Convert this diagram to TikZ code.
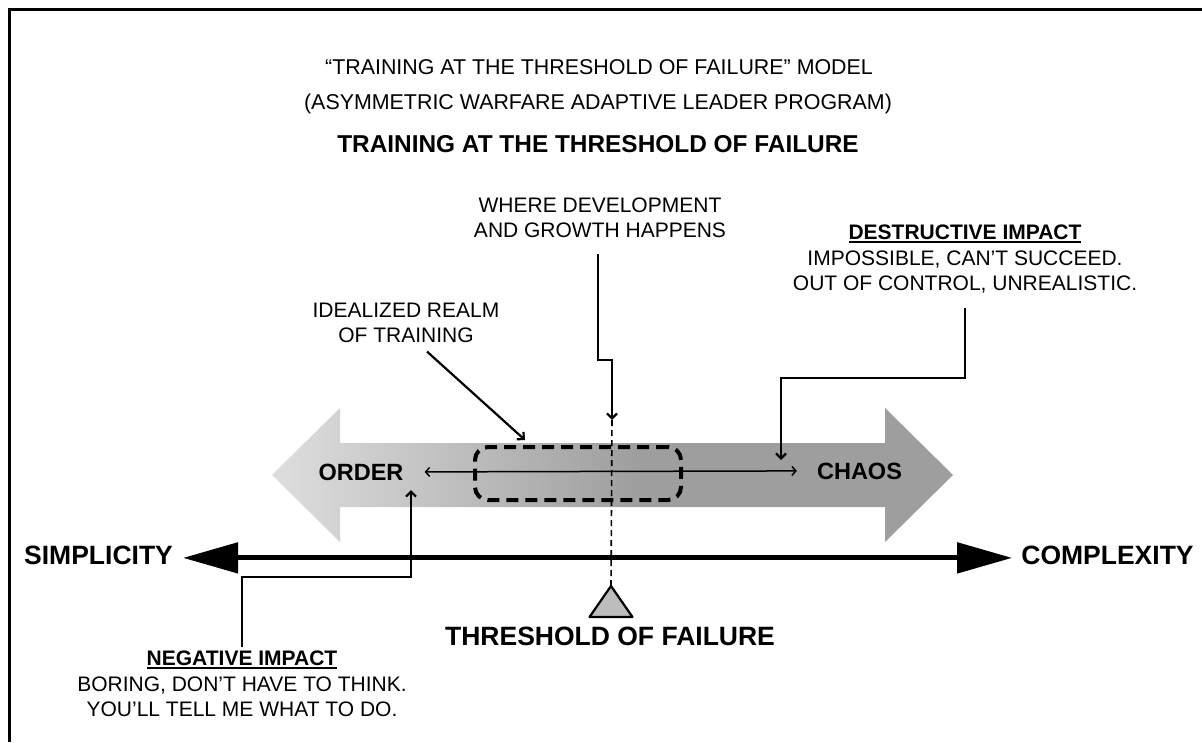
\documentclass[tikz,border=0pt]{standalone}
\usepackage{fontspec}
\setmainfont{Liberation Sans}
\usetikzlibrary{arrows.meta}

\definecolor{arrowlight}{gray}{0.87}
\definecolor{arrowdark}{gray}{0.62}
\definecolor{trifill}{gray}{0.74}

% light-to-dark ramp for the wide two-headed arrow (box maps to 25bp..75bp)
\pgfdeclarehorizontalshading{ramp}{100bp}{color(0bp)=(arrowlight); color(25bp)=(arrowlight); color(52bp)=(arrowdark); color(100bp)=(arrowdark)}

% bold heading with a solid underline
\newcommand\ulbold[1]{\setbox0\hbox{\bfseries #1}\rlap{\rule[-3.2pt]{\wd0}{1.8pt}}\box0}

\begin{document}
\begin{tikzpicture}[x=1pt,y=-1pt,
  titletext/.style={font=\fontsize{21.4}{25}\selectfont, inner sep=0, anchor=base},
  callout/.style={font=\fontsize{21}{25.5}\selectfont, align=center, inner sep=0, anchor=north},
  poletext/.style={font=\fontsize{23.5}{28}\selectfont\bfseries, inner sep=0, anchor=base},
  axistext/.style={font=\fontsize{26.5}{30}\selectfont\bfseries, inner sep=0, anchor=base},
  barb/.tip={Straight Barb[length=5pt,width=10pt]},
  conn/.style={line width=2.2pt, -barb},
]
\useasboundingbox (0,0) rectangle (1202,742);

% frame
\draw[line width=3pt] (1202,9.5) -- (9.5,9.5) -- (9.5,742);

% titles
\node[titletext] (t1) at (599,74) {“TRAINING AT THE THRESHOLD OF FAILURE” MODEL};
\node[titletext] (t2) at (598,109) {(ASYMMETRIC WARFARE ADAPTIVE LEADER PROGRAM)};
\node[titletext, font=\fontsize{24.4}{28}\selectfont\bfseries] (t3) at (598,152) {TRAINING AT THE THRESHOLD OF FAILURE};

% wide shaded two-headed arrow
\shade[shading=ramp] (272,475) -- (340,408) -- (340,443) -- (885,443) -- (885,408)
  -- (953,475) -- (885,542) -- (885,507) -- (340,507) -- (340,542) -- cycle;

% idealized realm box
\node[draw, line width=4pt, dash pattern=on 12pt off 7pt, rounded corners=13pt,
      minimum width=206pt, minimum height=53pt, inner sep=0] (realm) at (578,473.5) {};

% poles
\node[poletext] (order) at (361,480) {ORDER};
\node[poletext] (chaos) at (859.5,479) {CHAOS};
\draw[line width=1.5pt, {Straight Barb[length=4pt,width=9pt]}-{Straight Barb[length=4pt,width=9pt]}]
  ([xshift=21pt]order.east) -- ([xshift=-20pt]chaos.west);

% simplicity / complexity axis
\node[axistext] (simp) at (98.5,564) {SIMPLICITY};
\node[axistext] (comp) at (1107.5,564) {COMPLEXITY};
\draw[line width=5pt, {Triangle[length=55pt,width=30pt]}-{Triangle[length=55pt,width=30pt]}]
  ([xshift=10pt,yshift=-3pt]simp.east) -- ([xshift=-9pt,yshift=-3pt]comp.west);

% threshold marker
\coordinate (thr) at (612,420);
\coordinate (tri) at (611,586);
\draw[line width=1.6pt, dash pattern=on 6pt off 4pt] (thr) -- (tri);
\draw[line width=2.2pt, fill=trifill, line join=round] (tri) -- ++(21.5,31) -- ++(-43,0) -- cycle;
\node[axistext] (thrlabel) at (610,645) {THRESHOLD OF FAILURE};

% callouts
\node[callout] (where) at (600,197.5) {WHERE DEVELOPMENT\\AND GROWTH HAPPENS};
\node[callout] (ideal) at (406,302.5) {IDEALIZED REALM\\OF TRAINING};
\node[callout] (destr) at (965,225) {\ulbold{DESTRUCTIVE IMPACT}\\IMPOSSIBLE, CAN’T SUCCEED.\\OUT OF CONTROL, UNREALISTIC.};
\node[callout] (neg) at (242,651) {\ulbold{NEGATIVE IMPACT}\\BORING, DON’T HAVE TO THINK.\\YOU’LL TELL ME WHAT TO DO.};

\coordinate (chaoshit) at (781,460);
\coordinate (orderhit) at (411,490);

\draw[conn] ([xshift=-2pt,yshift=-16pt]where.south) |- (thr |- 0,360) -- (thr);
\draw[conn] ([xshift=21pt,yshift=-8.5pt]ideal.south) -- ([xshift=-53pt,yshift=5pt]realm.north);
\draw[conn] (destr.south |- 0,308) |- (chaoshit |- 0,378) -- (chaoshit);
\draw[conn] ([yshift=4pt]neg.north) |- (orderhit |- 0,577) -- (orderhit);
\end{tikzpicture}
\end{document}
